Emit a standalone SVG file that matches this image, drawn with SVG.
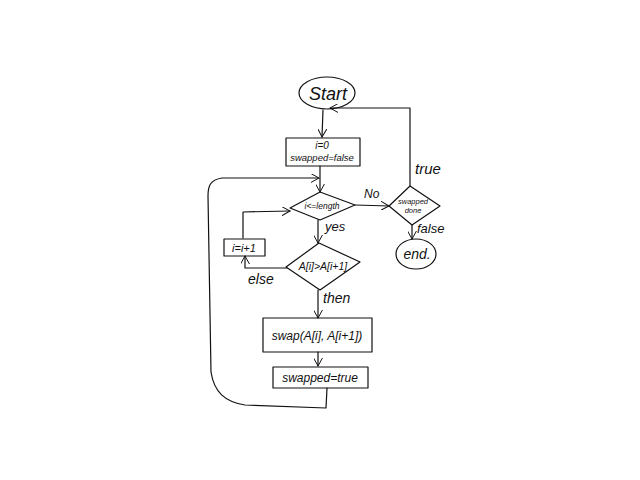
<svg xmlns="http://www.w3.org/2000/svg" width="640" height="480" viewBox="0 0 640 480">
  <defs>
    <marker id="vhead" viewBox="0 0 10 10" refX="9" refY="5" markerWidth="9" markerHeight="9" orient="auto" markerUnits="userSpaceOnUse">
      <path d="M0,0 L9,5 L0,10" fill="none" stroke="#111" stroke-width="1.1"/>
    </marker>
  </defs>
  <style>
    .ink { fill: none; stroke: #111; stroke-width: 1.2; stroke-linecap: round; stroke-linejoin: round; }
    .lbl { font-family: "Liberation Sans", "DejaVu Sans", sans-serif; font-style: italic; fill: #111; stroke: none; }
    .node text { font-family: "Liberation Sans", "DejaVu Sans", sans-serif; font-style: italic; fill: #111; stroke: none; text-anchor: middle; }
  </style>
  <rect width="640" height="480" fill="#ffffff"/>

  <!-- connectors -->
  <g id="connectors">
    <g class="ink">
      <path d="M323,110 L322,137" marker-end="url(#vhead)"/>
      <path d="M320,166 L320,192" marker-end="url(#vhead)"/>
      <path d="M355,205 L389,206" marker-end="url(#vhead)"/>
      <path d="M410,186 L410,108 L330,108" marker-end="url(#vhead)"/>
      <path d="M412,225 L412,239" marker-end="url(#vhead)"/>
      <path d="M318,220 L318,243" marker-end="url(#vhead)"/>
      <path d="M287,268 L245,268 L245,256" marker-end="url(#vhead)"/>
      <path d="M243,238 L243,212 L290,211" marker-end="url(#vhead)"/>
      <path d="M318,290 L318,318" marker-end="url(#vhead)"/>
      <path d="M318,352 L318,366" marker-end="url(#vhead)"/>
      <path d="M327,388 L326,408 L245,405 C225,402 214,392 211,372 L208,196 C208,186 210,180 222,178 L319,178" marker-end="url(#vhead)"/>
    </g>
    <text class="lbl" x="364" y="198" font-size="12">No</text>
    <text class="lbl" x="415" y="174" font-size="15">true</text>
    <text class="lbl" x="417" y="233" font-size="13">false</text>
    <text class="lbl" x="325" y="231" font-size="13">yes</text>
    <text class="lbl" x="248" y="284" font-size="14">else</text>
    <text class="lbl" x="323" y="303" font-size="14">then</text>
  </g>

  <g id="start" class="node">
    <ellipse class="ink" cx="327" cy="93" rx="28" ry="16"/>
    <text x="328" y="100" font-size="18">Start</text>
  </g>

  <g id="init" class="node">
    <rect class="ink" x="286" y="138" width="74" height="28"/>
    <text x="322" y="149" font-size="10">i=0</text>
    <text x="322" y="161" font-size="9.5">swapped=false</text>
  </g>

  <g id="loop-test" class="node">
    <path class="ink" d="M320,192 L355,205 L320,220 L290,208 Z"/>
    <text x="322" y="209" font-size="8.5">i&lt;=length</text>
  </g>

  <g id="swapped-test" class="node">
    <path class="ink" d="M410,186 L440,206 L412,225 L389,206 Z"/>
    <text x="413" y="204" font-size="7.5">swapped</text>
    <text x="413" y="213" font-size="7.5">done</text>
  </g>

  <g id="end" class="node">
    <ellipse class="ink" cx="416" cy="254" rx="20" ry="15"/>
    <text x="417" y="259" font-size="14">end.</text>
  </g>

  <g id="compare" class="node">
    <path class="ink" d="M319,243 L360,262 L320,290 L286,267 Z"/>
    <text x="323" y="270" font-size="10.5">A[i]&gt;A[i+1]</text>
  </g>

  <g id="increment" class="node">
    <rect class="ink" x="224" y="239" width="41" height="17"/>
    <text x="244" y="252" font-size="11">i=i+1</text>
  </g>

  <g id="swap" class="node">
    <rect class="ink" x="263" y="318" width="109" height="34"/>
    <text x="317" y="340" font-size="12">swap(A[i], A[i+1])</text>
  </g>

  <g id="set-swapped" class="node">
    <rect class="ink" x="273" y="367" width="95" height="21"/>
    <text x="320" y="382" font-size="12">swapped=true</text>
  </g>
</svg>
